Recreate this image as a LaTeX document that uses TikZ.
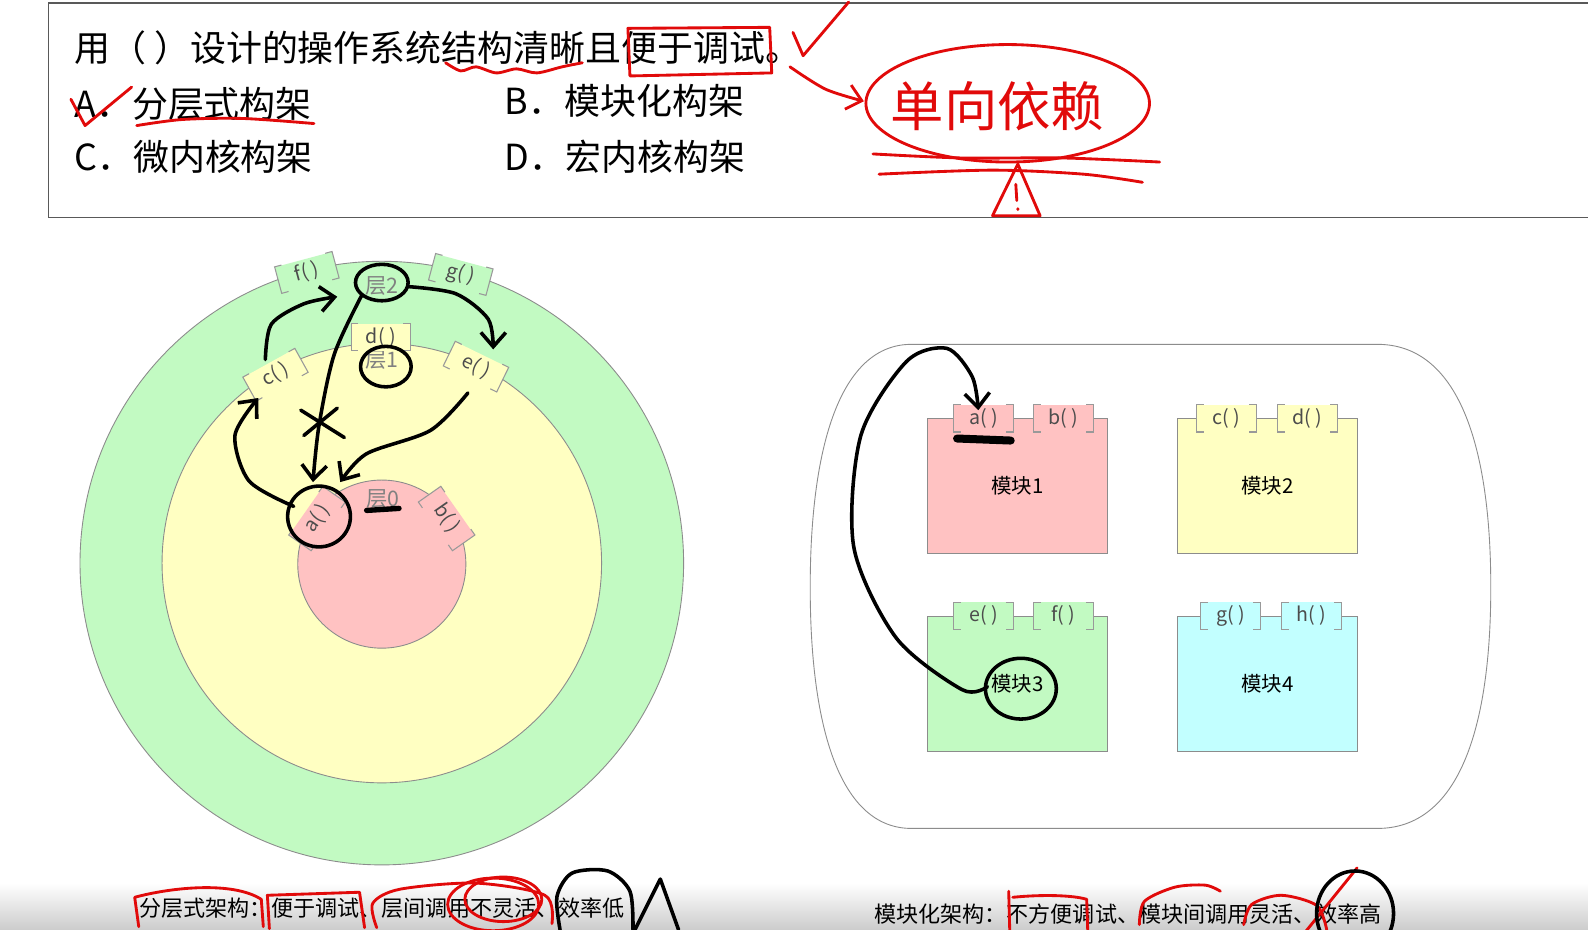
\documentclass[tikz,border=0pt]{standalone}
\usepackage{fontspec}
\setmainfont{Noto Sans CJK SC}
\usetikzlibrary{arrows.meta,calc}
\definecolor{lgreen}{RGB}{194,250,194}
\definecolor{lyellow}{RGB}{255,255,194}
\definecolor{lpink}{RGB}{255,194,194}
\definecolor{lcyan}{RGB}{194,255,255}
\definecolor{penred}{RGB}{225,10,10}
\newcommand{\questfont}{\fontsize{20.2}{23}\selectfont}
\newcommand{\botfont}{\fontsize{12.4}{14}\selectfont}
\begin{document}
\begin{tikzpicture}[x=0.02cm, y=-0.02cm,
    ring/.style={draw=black!45, line width=0.5pt},
    fn/.style={fill=#1, text=black!70, font=\fontsize{11}{12}\selectfont, minimum width=33pt, minimum height=15pt, inner sep=0pt},
    brk/.style={draw=black!40, line width=0.6pt},
    modbox/.style={draw=black!45, fill=#1, minimum width=101.5pt, minimum height=76pt, font=\fontsize{11.5}{13}\selectfont},
    layertext/.style={text=black!50, font=\fontsize{12}{13}\selectfont},
    qtext/.style={anchor=west, inner sep=0pt, font=\questfont},
    blackpen/.style={line width=2pt, line cap=round, line join=round},
    redpen/.style={penred, line width=1.6pt, line cap=round, line join=round},
    handarrow/.style={-{Straight Barb[length=8pt, width=14pt]}}
  ]
\useasboundingbox (0,0) rectangle (1568,918);
\fill[white] (0,0) rectangle (1568,918);
\shade[top color=white, bottom color=black!20] (0,872) rectangle (1568,918);

% question box
\draw[black!65, line width=0.8pt] (1568,3) -- (48,3) -- (48,215) -- (1568,215);
\node[qtext] (quest) at (73,47) {用（ ）设计的操作系统结构清晰且便于调试。};
\node[qtext] (optA) at (73,103) {A．分层式构架};
\node[qtext] (optB) at (498,100) {B．模块化构架};
\node[qtext] (optC) at (73,155) {C．微内核构架};
\node[qtext] (optD) at (498,155) {D．宏内核构架};

% layered rings
\draw[ring, fill=lgreen] (377,556) circle [radius=298];
\draw[ring, fill=lyellow] (377,556) circle [radius=217];
\draw[ring, fill=lpink] (377,557) circle [radius=83];
\node[layertext] (L2) at (377,282) {层2};
\node[layertext] (L1) at (377,355) {层1};
\node[layertext] (L0) at (378,493) {层0};
\node[fn=lgreen, rotate=15] (f) at (303,269) {f( )};
\node[fn=lgreen, rotate=-15] (g) at (455,271) {g( )};
\node[fn=lyellow] (d) at (376,333) {d( )};
\node[fn=lyellow, rotate=29] (c) at (272,370) {c( )};
\node[fn=lyellow, rotate=-26] (e) at (470,362) {e( )};
\node[fn=lpink, rotate=55] (a) at (313,512) {a( )};
\node[fn=lpink, rotate=-55] (b) at (441,512) {b( )};

% modules
\draw[ring] (900,340) -- (1360,340) .. controls (1440,340) and (1472,440) .. (1472,580)
  .. controls (1472,720) and (1440,818) .. (1360,818) -- (900,818)
  .. controls (830,818) and (800,720) .. (800,580) .. controls (800,440) and (830,340) .. (900,340);
\node[modbox=lpink] (m1) at (1004.5,480) {模块1};
\node[modbox=lyellow] (m2) at (1251.5,480) {模块2};
\node[modbox=lgreen] (m3) at (1004.5,675) {模块3};
\node[modbox=lcyan] (m4) at (1251.5,675) {模块4};
\node[fn=lpink] (ma) at (971,413) {a( )};
\node[fn=lpink] (mb) at (1050,413) {b( )};
\node[fn=lyellow] (mc) at (1211,413) {c( )};
\node[fn=lyellow] (md) at (1291,413) {d( )};
\node[fn=lgreen] (me) at (971,608) {e( )};
\node[fn=lgreen] (mf) at (1050,608) {f( )};
\node[fn=lcyan] (mg) at (1215,608) {g( )};
\node[fn=lcyan] (mh) at (1295,608) {h( )};
\foreach \t in {f,g,d,c,e,a,b,ma,mb,mc,md,me,mf,mg,mh}
  \draw[brk] ($(\t.north west)!4pt!(\t.north east)$) -- (\t.north west) -- (\t.south west) -- ($(\t.south west)!4pt!(\t.south east)$)
             ($(\t.north east)!4pt!(\t.north west)$) -- (\t.north east) -- (\t.south east) -- ($(\t.south east)!4pt!(\t.south west)$);

% summaries
\node[anchor=west, inner sep=0pt, font=\botfont] (sumL) at (137,897) {分层式架构：便于调试、层间调用不灵活、效率低};
\node[anchor=west, inner sep=0pt, font=\botfont] (sumR) at (863,903) {模块化架构：不方便调试、模块间调用灵活、效率高};

% red pen notes
\draw[redpen] plot[smooth] coordinates {(440,62) (455,70) (470,66) (490,72) (510,68) (530,72) (555,66) (575,62)};
\draw[redpen] (620,28) -- (760,27) -- (762,72) -- (622,75) -- cycle;
\draw[redpen] (783,32) -- (793,55) -- (838,2);
\draw[redpen] (70,98) -- (84,124) -- (130,86);
\draw[redpen] plot[smooth] coordinates {(135,124) (180,118) (240,117) (310,122)};
\draw[redpen, handarrow] plot[smooth] coordinates {(780,66) (815,88) (853,100)};
\node[text=penred, font=\fontsize{30}{32}\selectfont] (dep) at (985,105) {单向依赖};
\draw[redpen] (995,102) ellipse [x radius=140, y radius=58];
\draw[redpen] plot[smooth] coordinates {(862,152) (950,156) (1050,156) (1145,160)};
\draw[redpen] plot[smooth] coordinates {(868,172) (980,168) (1070,172) (1128,180)};
\draw[redpen] (1005,162) -- (980,213) -- (1027,213) -- cycle (1003,182) -- (1004,198) (1005,206) -- (1005,207);

% black pen notes, rings
\draw[blackpen] (377,279) ellipse [x radius=26, y radius=18];
\draw[blackpen] (381,362) ellipse [x radius=25, y radius=20];
\draw[blackpen] (315,510) ellipse [x radius=31, y radius=30];
\draw[blackpen, line width=3pt] (362,504) -- (394,502);
\draw[blackpen, handarrow] plot[smooth] coordinates {(357,292) (330,350) (315,420) (309,476)};
\draw[blackpen] (297,405) -- (340,432) (300,430) -- (333,403);
\draw[blackpen, handarrow] plot[smooth] coordinates {(262,355) (268,320) (300,300) (333,293)};
\draw[blackpen, handarrow] plot[smooth] coordinates {(403,283) (450,290) (482,315) (487,345)};
\draw[blackpen, handarrow] plot[smooth] coordinates {(462,388) (425,425) (362,448) (336,476)};
\draw[blackpen, handarrow] plot[smooth] coordinates {(290,500) (246,475) (232,430) (255,393)};

% black pen notes, modules
\draw[blackpen, handarrow] plot[smooth] coordinates {(975,678) (950,681) (885,630) (843,540) (850,430) (895,357) (935,344) (960,372) (966,405)};
\draw[blackpen] (1008,680) ellipse [x radius=35, y radius=30];
\draw[blackpen, line width=4.5pt] (945,433) -- (998,435);

% notes on summaries
\draw[redpen] (137,915) -- (133,886) .. controls (170,876) and (230,870) .. (258,888) -- (260,915);
\draw[redpen] (266,917) -- (264,884) -- (355,881) -- (360,916);
\draw[redpen] plot[smooth] coordinates {(372,916) (368,892) (395,878) (470,872) (538,884) (545,912)};
\draw[redpen] (487,893) ellipse [x radius=45, y radius=26];
\draw[redpen] (497,888) ellipse [x radius=38, y radius=22];
\draw[blackpen] plot[smooth] coordinates {(553,918) (550,885) (565,862) (600,860) (622,880) (625,918)};
\draw[blackpen] (627,918) -- (652,868) -- (670,918);
\draw[redpen] (997,918) -- (996,880) (1000,886) .. controls (1030,883) and (1060,884) .. (1073,888) -- (1074,918);
\draw[redpen] plot[smooth] coordinates {(1125,913) (1130,890) (1160,876) (1190,874) (1205,880)};
\draw[redpen] plot[smooth] coordinates {(1228,913) (1236,893) (1265,884) (1300,894) (1310,918)};
\draw[redpen] (1285,925) -- (1340,857);
\draw[blackpen] (1338,902) ellipse [x radius=38, y radius=42];
\end{tikzpicture}
\end{document}
